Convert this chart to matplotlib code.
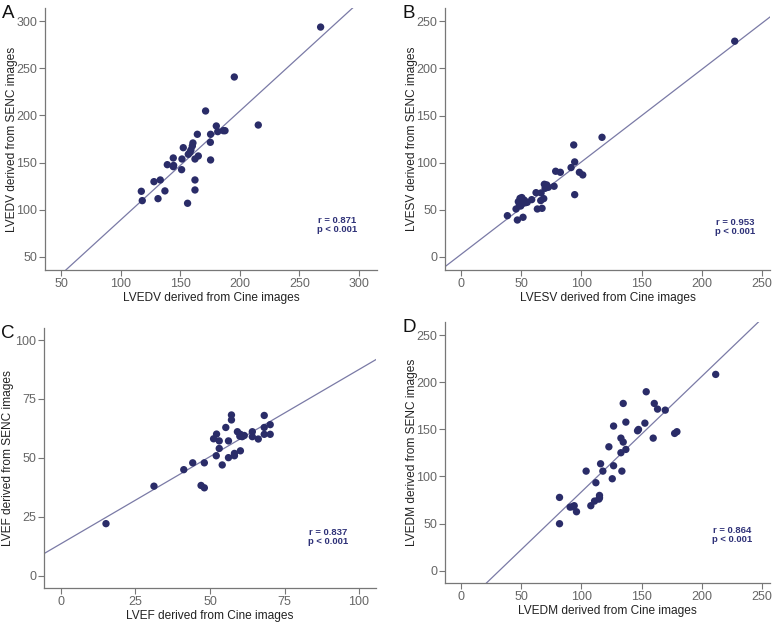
import matplotlib
matplotlib.use("Agg")
import matplotlib.pyplot as plt

plt.rcParams['font.family'] = ['Liberation Sans', 'DejaVu Sans']

# ---- Data ----
# Panel A: LVEDV
a_cine = [267.8, 195.4, 215.5, 171.3, 180.3, 181.5, 186.2, 187.6, 164.4, 175.5,
          175.3, 160.7, 160.2, 152.6, 159.0, 158.2, 156.8, 165.2, 162.4, 151.5,
          175.5, 144.2, 139.2, 144.2, 144.5, 151.2, 133.3, 162.4, 128.0, 117.4,
          137.2, 162.4, 131.4, 118.2, 156.2]
a_senc = [293.6, 240.7, 189.8, 204.7, 188.8, 182.8, 183.8, 183.8, 180.0, 180.0,
          171.5, 170.8, 167.6, 165.8, 163.4, 160.9, 158.8, 157.0, 153.8, 153.8,
          152.8, 154.9, 147.8, 145.7, 147.0, 142.5, 131.6, 131.6, 129.8, 119.6,
          120.0, 121.0, 111.8, 109.7, 106.9]
a_fit = (1.154, -26.2)  # slope, intercept
a_text = "r = 0.871\np < 0.001"

# Panel B: LVESV
b_cine = [227.3, 117.1, 93.6, 94.4, 91.4, 78.6, 82.5, 98.3, 101.1, 94.4,
          77.3, 69.2, 71.2, 72.5, 69.8, 66.5, 62.3, 68.7, 66.2, 58.7,
          63.4, 67.3, 49.0, 49.8, 51.8, 51.2, 47.6, 48.5, 49.6, 52.6,
          53.5, 45.7, 38.5, 46.8, 51.5, 55.0, 50.5]
b_senc = [228.8, 126.9, 118.8, 100.8, 94.8, 90.9, 89.8, 89.8, 87.0, 66.1,
          75.0, 77.1, 76.4, 73.9, 72.8, 67.9, 68.2, 61.9, 59.8, 60.8,
          50.9, 51.6, 62.2, 59.4, 60.5, 56.9, 58.7, 55.2, 54.1, 60.1,
          57.5, 50.9, 43.8, 39.2, 42.1, 58.0, 63.0]
b_fit = (0.981, 2.75)
b_text = "r = 0.953\np < 0.001"

# Panel C: LVEF
c_cine = [15.1, 31.2, 41.2, 44.2, 48.1, 47.0, 48.1, 54.1, 56.2, 52.1,
          53.1, 51.2, 52.2, 53.1, 55.3, 56.2, 57.2, 57.2, 58.2, 58.2,
          59.2, 60.2, 60.2, 60.8, 61.5, 60.0, 64.2, 64.2, 66.2, 68.2,
          68.2, 68.2, 70.2, 70.2]
c_senc = [22.1, 38.0, 45.0, 47.9, 47.9, 38.3, 37.3, 47.0, 50.1, 50.9,
          54.0, 58.1, 60.1, 57.2, 62.9, 57.2, 68.2, 66.1, 51.9, 50.9,
          61.1, 53.0, 60.0, 59.0, 59.5, 59.2, 61.1, 59.0, 58.0, 68.0,
          62.9, 60.0, 64.1, 60.0]
c_fit = (0.739, 13.6)
c_text = "r = 0.837\np < 0.001"

# Panel D: LVEDM
d_cine = [211.5, 153.8, 134.7, 160.5, 163.2, 169.6, 136.9, 152.7, 126.7, 147.4,
          146.6, 177.4, 179.3, 159.6, 132.8, 134.7, 136.9, 132.8, 122.8, 115.9,
          126.7, 103.9, 117.8, 133.6, 125.6, 112.0, 115.0, 115.0, 114.5, 110.9,
          107.8, 94.0, 92.6, 90.6, 95.9, 81.8, 81.8]
d_senc = [208.3, 189.9, 177.5, 177.5, 171.5, 170.4, 157.7, 156.6, 153.5, 149.9,
          148.5, 145.7, 147.5, 140.7, 140.7, 136.5, 128.7, 125.2, 131.5, 113.5,
          111.4, 105.7, 105.7, 105.7, 97.6, 93.4, 79.9, 77.4, 76.0, 73.9,
          69.0, 69.0, 67.9, 67.5, 62.6, 77.8, 49.9]
d_fit = (1.226, -38.9)
d_text = "r = 0.864\np < 0.001"

panels = [
    dict(letter="A", x=a_cine, y=a_senc, fit=a_fit, text=a_text,
         xlabel="LVEDV derived from Cine images", ylabel="LVEDV derived from SENC images",
         xlim=(36.6, 315.1), ylim=(36.2, 313.8), ticks=[50, 100, 150, 200, 250, 300],
         rect=[45, 8, 377, 270], tpos=(0.88, 0.172), ylab_x=12),
    dict(letter="B", x=b_cine, y=b_senc, fit=b_fit, text=b_text,
         xlabel="LVESV derived from Cine images", ylabel="LVESV derived from SENC images",
         xlim=(-13.3, 256.6), ylim=(-13.8, 264.0), ticks=[0, 50, 100, 150, 200, 250],
         rect=[445, 8, 770, 270], tpos=(0.892, 0.164), ylab_x=412),
    dict(letter="C", x=c_cine, y=c_senc, fit=c_fit, text=c_text,
         xlabel="LVEF derived from Cine images", ylabel="LVEF derived from SENC images",
         xlim=(-5.7, 105.7), ylim=(-5.2, 105.1), ticks=[0, 25, 50, 75, 100],
         rect=[44, 328, 376, 588], tpos=(0.855, 0.196), ylab_x=8),
    dict(letter="D", x=d_cine, y=d_senc, fit=d_fit, text=d_text,
         xlabel="LVEDM derived from Cine images", ylabel="LVEDM derived from SENC images",
         xlim=(-13.3, 256.6), ylim=(-13.0, 263.9), ticks=[0, 50, 100, 150, 200, 250],
         rect=[445, 322, 770, 583], tpos=(0.883, 0.184), ylab_x=412),
]

W, H = 778, 623
fig = plt.figure(figsize=(W / 100, H / 100), dpi=100)

dot_color = "#2a2c68"
line_color = "#7a7aa6"
text_color = "#2e3178"

for p in panels:
    l, t, r, b = p["rect"]
    w, h = r - l, b - t
    ax = fig.add_axes([l / W, 1 - b / H, w / W, h / H])
    ax.set_xlim(*p["xlim"])
    ax.set_ylim(*p["ylim"])
    slope, icpt = p["fit"]
    ax.axline((0, icpt), slope=slope, color=line_color, lw=0.9, zorder=1)
    ax.scatter(p["x"], p["y"], s=28, color=dot_color, edgecolors="none", zorder=2)
    ax.set_xticks(p["ticks"])
    ax.set_yticks(p["ticks"])
    for side in ("top", "right"):
        ax.spines[side].set_visible(False)
    for side in ("left", "bottom"):
        ax.spines[side].set_color("#777777")
        ax.spines[side].set_linewidth(0.9)
    ax.tick_params(direction="out", length=4, width=0.8, color="#777777",
                   labelcolor="#666666", labelsize=9, pad=1.5)
    ax.set_xlabel(p["xlabel"], fontsize=8.6, color="#222222")
    ax.set_ylabel(p["ylabel"], fontsize=8.6, color="#222222")
    ax.xaxis.set_label_coords(0.5, -28 / h)
    ax.yaxis.set_label_coords((p["ylab_x"] - l) / w, 0.5)
    ax.xaxis.label.set_va("center")
    ax.yaxis.label.set_va("center")
    ax.text(p["tpos"][0], p["tpos"][1], p["text"], transform=ax.transAxes,
            ha="center", va="center", fontsize=6.8, fontweight="bold",
            color=text_color, linespacing=1.0)
    fig.text((l - 43) / W, 1 - (t + 5) / H, p["letter"], fontsize=13.5,
             ha="left", va="center", color="#111111")

fig.savefig("out.png", dpi=100)
